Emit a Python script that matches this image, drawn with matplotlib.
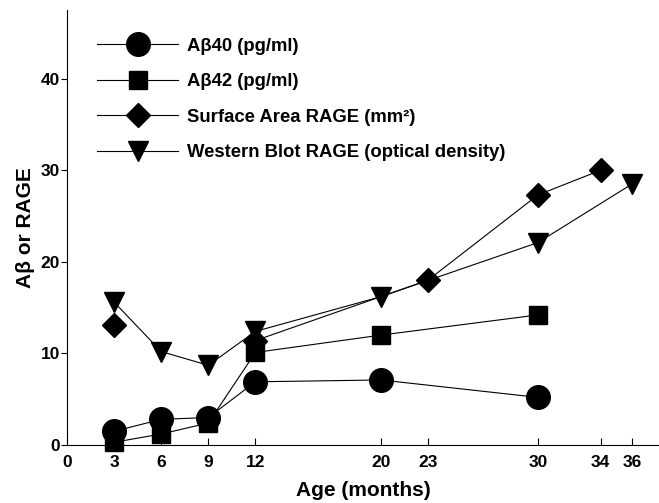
import numpy as np
import matplotlib.pyplot as plt

plt.rcParams['font.family'] = ['Liberation Sans', 'DejaVu Sans']
plt.rcParams['font.weight'] = 'bold'

# values
ab40_age = [3, 6, 9, 12, 20, 30]
ab40 = [1.5, 2.8, 3.0, 6.9, 7.1, 5.2]

ab42_age = [3, 6, 9, 12, 20, 30]
ab42 = [0.3, 1.2, 2.4, 10.1, 12.0, 14.2]

# first surface area point (3 months) is not joined to the rest
sa_age = [3, 12, 23, 30, 34]
sa_rage = [13.1, 11.4, 18.0, 27.3, 30.0]

wb_age = [3, 6, 9, 12, 20, 30, 36]
wb_rage = [15.6, 10.2, 8.7, 12.4, 16.2, 22.1, 28.5]

xticks = [0, 3, 6, 9, 12, 20, 23, 30, 34, 36]
yticks = [0, 10, 20, 30, 40]

fig = plt.figure(figsize=(6.59, 5.03), dpi=100)
ax = fig.add_axes([0.1017, 0.1153, 0.898, 0.865])

lw = 0.8
ax.plot(ab40_age, ab40, color='black', lw=lw, marker='o', ms=17,
        label='A\u03b240 (pg/ml)', clip_on=False)
ax.plot(ab42_age, ab42, color='black', lw=lw, marker='s', ms=13,
        label='A\u03b242 (pg/ml)', clip_on=False)
ax.plot(sa_age[1:], sa_rage[1:], color='black', lw=lw, marker='D', ms=12.5,
        label='Surface Area RAGE (mm\u00b2)', clip_on=False)
ax.plot(sa_age[:1], sa_rage[:1], color='black', lw=0, marker='D', ms=12.5,
        clip_on=False)
ax.plot(wb_age, wb_rage, color='black', lw=lw, marker='v', ms=15,
        label='Western Blot RAGE (optical density)', clip_on=False)

ax.set_xlim(0, 37.7)
ax.set_ylim(0, 47.5)
ax.set_xticks(xticks)
ax.set_yticks(yticks)
ax.tick_params(axis='x', direction='in', length=5, width=0.8, pad=7, labelsize=12.5)
ax.tick_params(axis='y', direction='out', length=4, width=0.8, pad=1, labelsize=12.5)
for s in ['top', 'right']:
    ax.spines[s].set_visible(False)
for s in ['left', 'bottom']:
    ax.spines[s].set_linewidth(0.8)

ax.set_xlabel('Age (months)', fontsize=15, fontweight='bold', labelpad=8)
ax.set_ylabel('A\u03b2 or RAGE', fontsize=15, fontweight='bold', labelpad=4)

ax.legend(loc='upper left', bbox_to_anchor=(0.147, 0.925), bbox_transform=fig.transFigure,
          frameon=False, fontsize=13.3, handlelength=4.4, handletextpad=0.5,
          labelspacing=1.0, borderaxespad=0, borderpad=0, markerscale=1.0)

fig.savefig('out.png', dpi=100)
